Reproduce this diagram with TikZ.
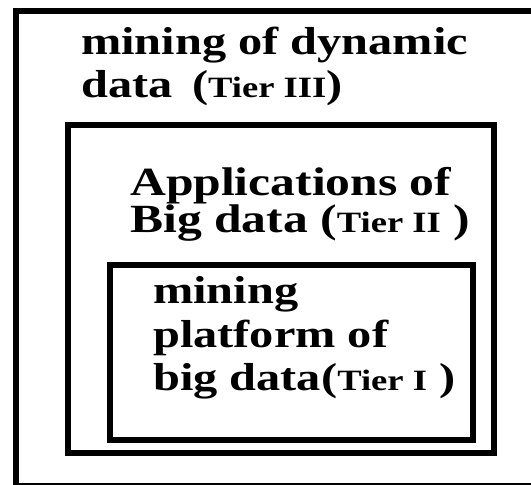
\documentclass[tikz,border=0pt]{standalone}
\usepackage{fontspec}
\newfontfamily\tierfont[FakeStretch=1.24]{Liberation Serif}
\newcommand\tiermain{\tierfont\bfseries\fontsize{39}{44}\selectfont}
\newcommand\tiersmall{\fontsize{29.5}{30}\selectfont}
\tikzset{
  tierbox/.style={draw, line width=6pt, inner sep=0pt},
  tierline/.style={anchor=base west, inner sep=0pt, font=\tiermain}
}
\begin{document}
\begin{tikzpicture}[x=1pt, y=-1pt]
\useasboundingbox (0,0) rectangle (531,485);
% outer frame (Tier III), open on the right
\coordinate (outer top) at (531,10.5);
\coordinate (outer corner) at (16,10.5);
\coordinate (outer foot) at (16,483.5);
\coordinate (outer end) at (531,483.5);
\draw[line width=6pt] (outer top) -- (outer corner) -- ([yshift=-1pt]outer foot);
\draw[line width=2pt] ([xshift=-3pt]outer foot) -- (outer end);
\node[tierline] (tier3 a) at (81,54) {mining of dynamic};
\node[tierline] (tier3 b) at (81,97) {data\hspace{0.5em}({\tiersmall Tier III})};

% middle box (Tier II)
\node[tierbox, minimum width=426pt, minimum height=328.5pt] (tier2) at (281,288.75) {};
\node[tierline, font=\tiermain\fontsize{40}{44}\selectfont] (tier2 a) at (130,195) {Applications of};
\node[tierline, font=\tiermain\fontsize{40}{44}\selectfont] (tier2 b) at (130,232) {Big data ({\tiersmall Tier II} )};

% inner box (Tier I)
\node[tierbox, minimum width=363pt, minimum height=175pt] (tier1) at (291.5,352) {};
\node[tierline] (tier1 a) at (153,303) {mining};
\node[tierline] (tier1 b) at (153,347) {platform of};
\node[tierline] (tier1 c) at (153,390) {big data({\tiersmall Tier I} )};
\end{tikzpicture}
\end{document}
